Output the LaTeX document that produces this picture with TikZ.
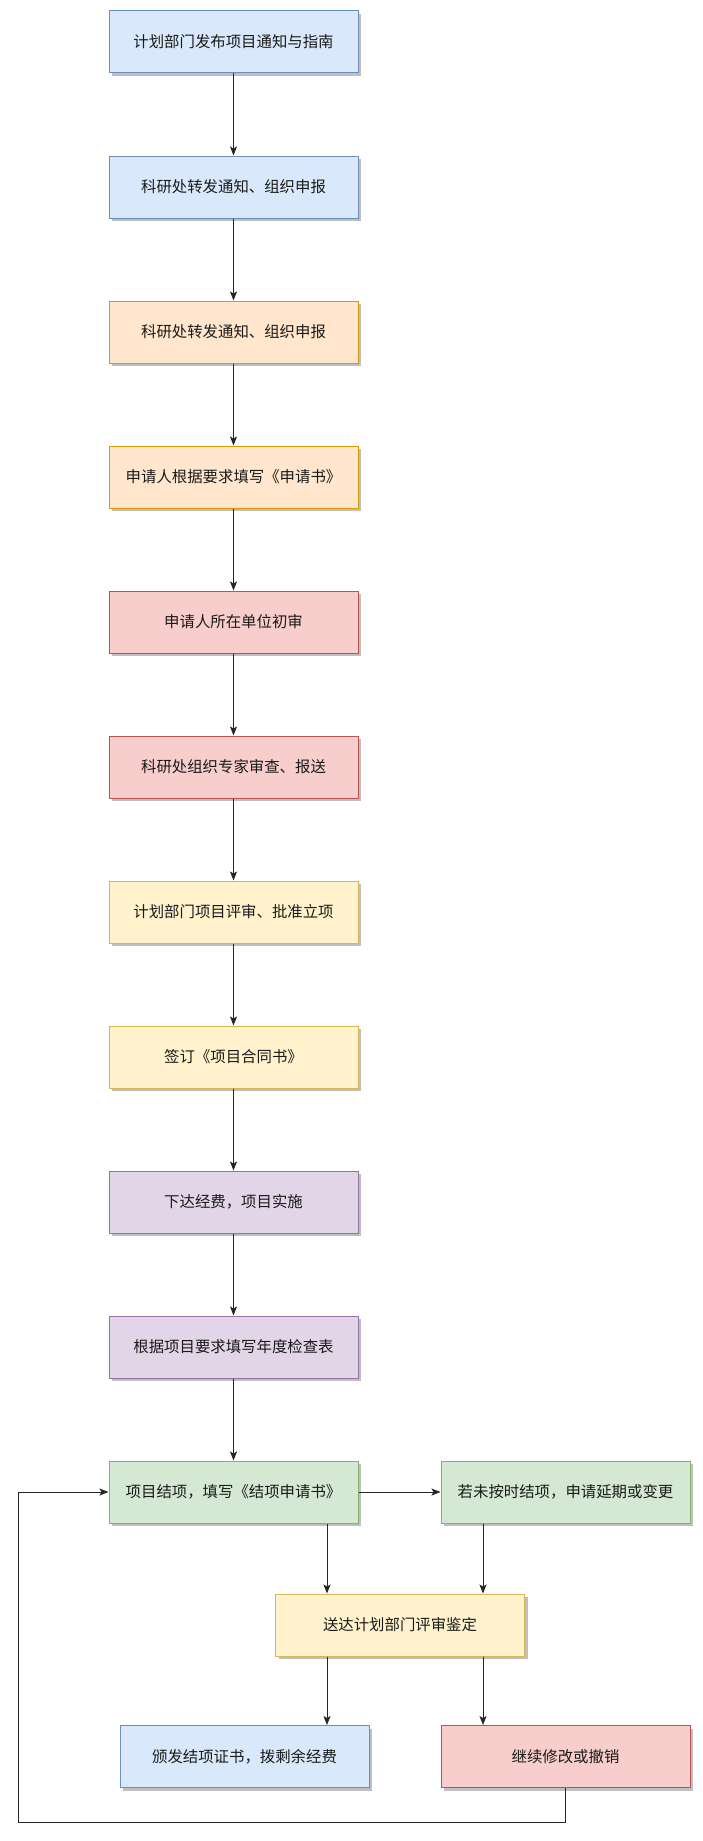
\documentclass[tikz,border=0pt]{standalone}
\usepackage{fontspec}
\setmainfont{Noto Sans CJK SC}
\usetikzlibrary{arrows.meta,shadows}
\definecolor{bfill}{HTML}{DAE8FC}\definecolor{bdraw}{HTML}{6C8EBF}
\definecolor{ofill}{HTML}{FFE6CC}\definecolor{odraw}{HTML}{D79B00}
\definecolor{rfill}{HTML}{F8CECC}\definecolor{rdraw}{HTML}{B85450}
\definecolor{yfill}{HTML}{FFF2CC}\definecolor{ydraw}{HTML}{D6B656}
\definecolor{pfill}{HTML}{E1D5E7}\definecolor{pdraw}{HTML}{9673A6}
\definecolor{gfill}{HTML}{D5E8D4}\definecolor{gdraw}{HTML}{82B366}
\definecolor{txt}{HTML}{1A1A1A}
\begin{document}
\begin{tikzpicture}[x=1pt,y=-1pt,
  box/.style={rectangle,minimum width=249pt,minimum height=62pt,inner sep=0pt,line width=1pt,
    font=\fontsize{15.4pt}{18pt}\selectfont,text=txt,
    drop shadow={shadow xshift=3pt,shadow yshift=-3pt,fill=black,opacity=0.25}},
  bl/.style={box,fill=bfill,draw=bdraw},
  or/.style={box,fill=ofill,draw=odraw},
  rd/.style={box,fill=rfill,draw=rdraw},
  yl/.style={box,fill=yfill,draw=ydraw},
  pu/.style={box,fill=pfill,draw=pdraw},
  gr/.style={box,fill=gfill,draw=gdraw},
  arr/.style={-{Stealth[length=9pt,width=7pt,inset=2pt]},line width=1pt,draw=black!85}]
\useasboundingbox (0,0) rectangle (703,1841);
\node[bl] (n1) at (233.5,42) {计划部门发布项目通知与指南};
\node[bl] (n2) at (233.5,187) {科研处转发通知、组织申报};
\node[or] (n3) at (233.5,332) {科研处转发通知、组织申报};
\node[or] (n4) at (233.5,477) {申请人根据要求填写《申请书》};
\node[rd] (n5) at (233.5,622) {申请人所在单位初审};
\node[rd] (n6) at (233.5,767) {科研处组织专家审查、报送};
\node[yl] (n7) at (233.5,912) {计划部门项目评审、批准立项};
\node[yl] (n8) at (233.5,1057) {签订《项目合同书》};
\node[pu] (n9) at (233.5,1202) {下达经费，项目实施};
\node[pu] (n10) at (233.5,1347) {根据项目要求填写年度检查表};
\node[gr] (n11) at (233.5,1492) {项目结项，填写《结项申请书》};
\node[gr] (r1) at (565.5,1492) {若未按时结项，申请延期或变更};
\node[yl] (sd) at (400,1625) {送达计划部门评审鉴定};
\node[bl] (fa) at (244.5,1756.5) {颁发结项证书，拨剩余经费};
\node[rd] (jx) at (565.5,1756.5) {继续修改或撤销};
\foreach \a/\b in {n1/n2,n2/n3,n3/n4,n4/n5,n5/n6,n6/n7,n7/n8,n8/n9,n9/n10,n10/n11}
  \draw[arr] (\a) -- (\b);
\draw[arr] (n11) -- (r1);
\draw[arr] (n11.south -| 327,0) -- (sd.north -| 327,0);
\draw[arr] (r1.south -| 483,0) -- (sd.north -| 483,0);
\draw[arr] (sd.south -| 327,0) -- (fa.north -| 327,0);
\draw[arr] (sd.south -| 483,0) -- (jx.north -| 483,0);
\coordinate (lp) at (18,1822);
\draw[arr] (jx.south) |- (lp) |- (n11.west);
\end{tikzpicture}
\end{document}
